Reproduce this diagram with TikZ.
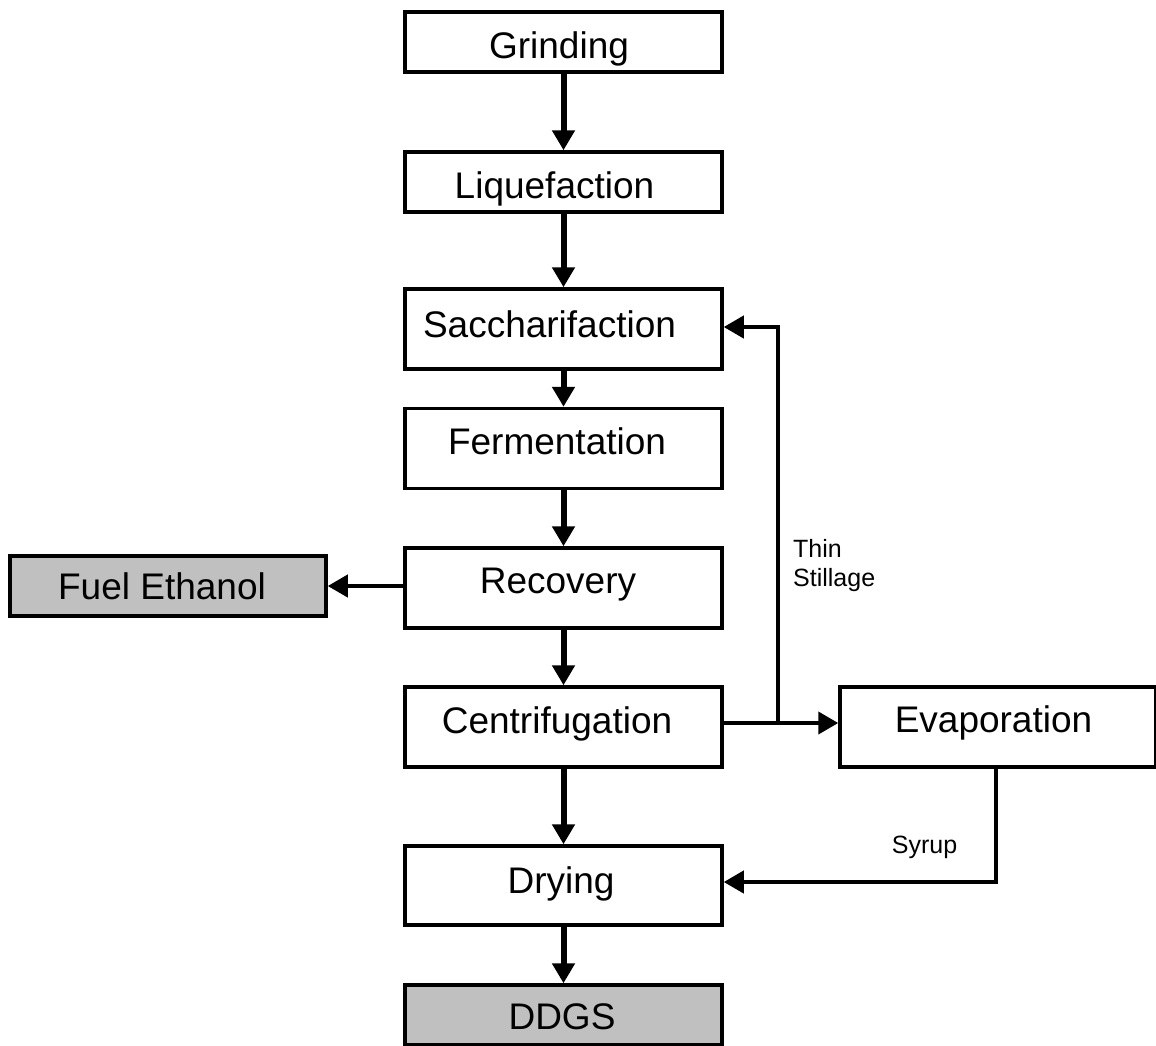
\documentclass[tikz,border=0pt]{standalone}
\usepackage{fontspec}
\setmainfont{Liberation Sans}
\usetikzlibrary{arrows.meta}
\newcommand\boxtxt[3]{\hspace*{#1pt}\raisebox{#2pt}{#3}}
\definecolor{outgray}{HTML}{C0C0C0}
\begin{document}
\begin{tikzpicture}[x=1pt,y=-1pt,
  proc/.style={draw, line width=3.5pt, minimum width=317pt, inner sep=0pt,
    font=\fontsize{37}{40}\selectfont, text height=26.5pt, text depth=0pt},
  prod/.style={proc, fill=outgray},
  mainflow/.style={line width=6pt, -{Triangle[width=22pt,length=20pt]}},
  sideflow/.style={line width=4pt, -{Triangle[width=22pt,length=20pt]}},
  lbl/.style={font=\fontsize{25}{29}\selectfont, inner sep=0pt}
]
\useasboundingbox (0,0) rectangle (1156,1045);
\fill[white] (0,0) rectangle (1156,1045);

\node[proc, minimum height=60pt] (g) at (563.5,42) {\boxtxt{-9}{-3}{Grinding}};
\node[proc, minimum height=60pt] (l) at (563.5,182) {\boxtxt{-18}{-3}{Liquefaction}};
\node[proc, minimum height=80pt] (s) at (563.5,329) {\boxtxt{-28}{5}{Saccharifaction}};
\node[proc, minimum height=80pt] (f) at (563.5,448.5) {\boxtxt{-13}{7}{Fermentation}};
\node[proc, minimum height=80pt] (r) at (563.5,588) {\boxtxt{-11}{8}{Recovery}};
\node[proc, minimum height=80pt] (c) at (563.5,727) {\boxtxt{-13}{7}{Centrifugation}};
\node[proc, minimum height=79pt] (d) at (563.5,885.5) {\boxtxt{-5}{5}{Drying}};
\node[prod, minimum height=60pt] (dd) at (563.5,1015) {\boxtxt{-3}{-1}{DDGS}};
\node[prod, minimum height=60pt, minimum width=316pt] (fe) at (168,586) {\boxtxt{-12}{0}{Fuel Ethanol}};
\node[proc, minimum height=80pt, minimum width=316pt] (ev) at (998,727) {\boxtxt{-9}{8}{Evaporation}};

\draw[mainflow] (g) -- (l);
\draw[mainflow] (l) -- (s);
\draw[mainflow] (s) -- (f);
\draw[mainflow] (f) -- (r);
\draw[mainflow] (r) -- (c);
\draw[mainflow] (c) -- (d);
\draw[mainflow] (d) -- (dd);

\draw[sideflow] (r.west |- fe.east) -- (fe.east);

\coordinate (j) at (778,723);
\coordinate (t) at (778,327);
\draw[sideflow] (c.east |- j) -- (ev.west |- j);
\draw[sideflow] (j) -- (t) -- (s.east |- t);

\coordinate (sy) at (996,882);
\draw[sideflow] (ev.south -| sy) -- (sy) -- (d.east |- sy);

\node[lbl, anchor=base west, align=left] (ts) at (793,586) {Thin\\Stillage};
\node[lbl, anchor=base] (syl) at (924.5,853) {Syrup};
\end{tikzpicture}
\end{document}
